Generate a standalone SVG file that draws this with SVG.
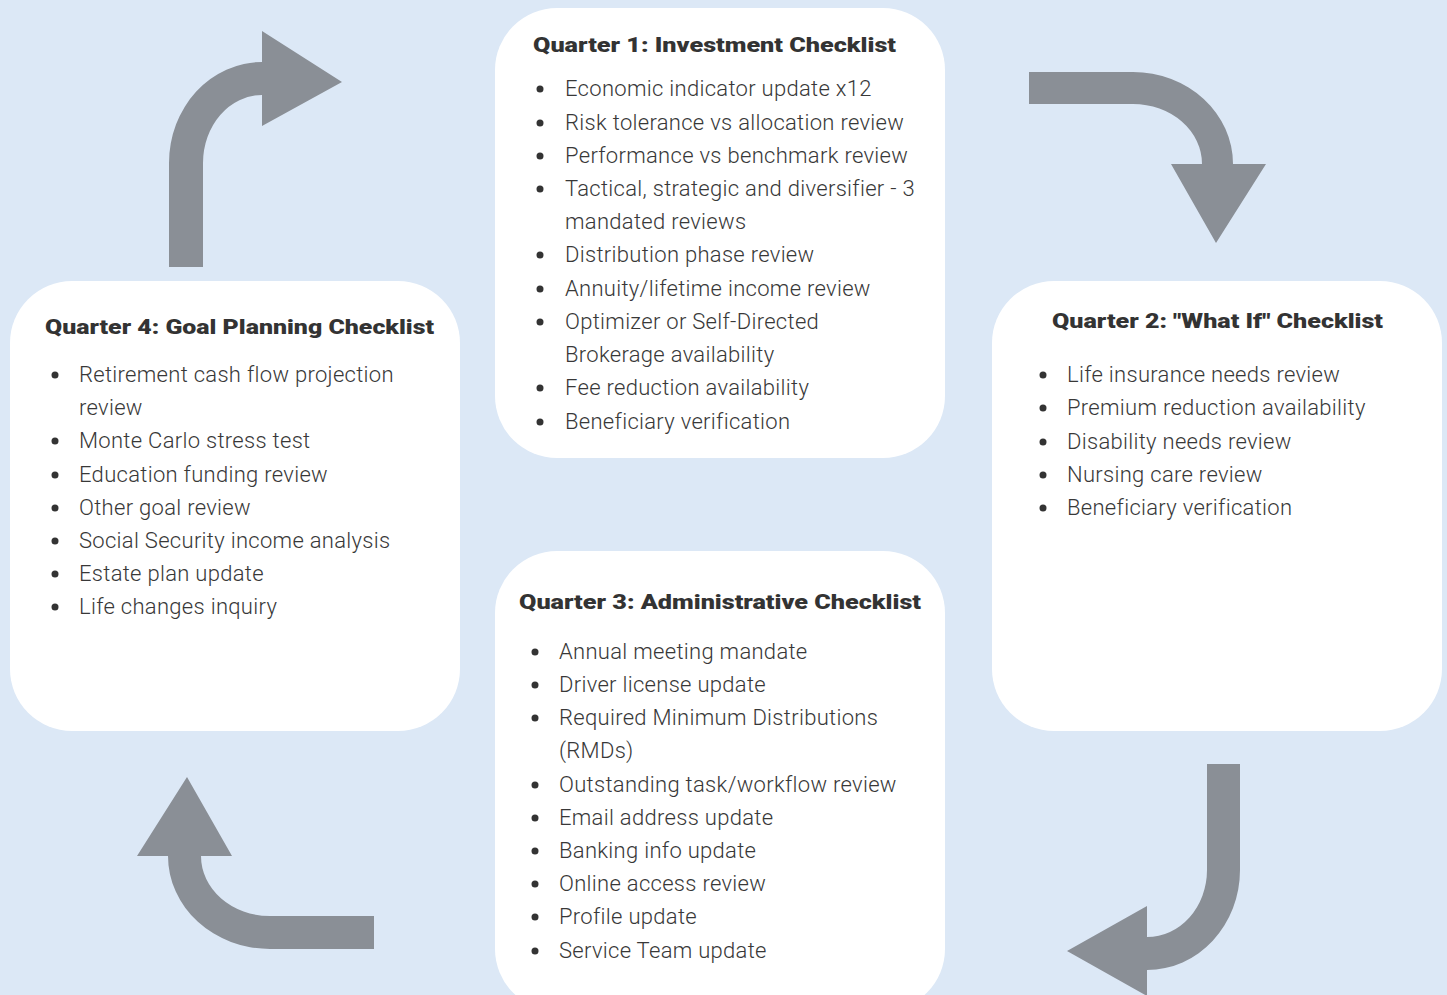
<svg xmlns="http://www.w3.org/2000/svg" width="1447" height="995" viewBox="0 0 1447 995">
<style>
.bg{fill:#dce8f6}
.box{fill:#ffffff}
.arr{fill:#8a8f96}
.t{font-family:Roboto,"Liberation Sans",sans-serif;font-weight:900;font-size:21px;fill:#333333}
.b{font-family:Roboto,"Liberation Sans",sans-serif;font-weight:300;font-size:22px;letter-spacing:0.3px;fill:#383838}
.dot{fill:#333333}
</style>
<rect class="bg" x="0" y="0" width="1447" height="995"/>
<g id="connectors">
<path class="arr" d="M169,267 L169,163 A93,101 0 0 1 262,62 L262,31 L342,82 L262,126 L262,95 A59,68 0 0 0 203,163 L203,267 Z"/>
<path class="arr" d="M1029,72 L1133,72 A100,92 0 0 1 1233,164 L1266,164 L1216,243 L1171,164 L1202,164 A69,60 0 0 0 1133,104 L1029,104 Z"/>
<path class="arr" d="M1207,764 L1240,764 L1240,870 A93,100 0 0 1 1147,970 L1147,996 L1067,951 L1147,906 L1147,937 A60,67 0 0 0 1207,870 Z"/>
<path class="arr" d="M374,916 L374,949 L270,949 A102,93 0 0 1 168,856 L137,856 L187,777 L232,856 L201,856 A69,60 0 0 0 270,916 Z"/>
</g>
<g id="q1">
<rect class="box" x="495" y="8" width="450" height="450" rx="62"/>
<text class="t" x="533" y="52" textLength="363" lengthAdjust="spacingAndGlyphs">Quarter 1: Investment Checklist</text>
<g class="dot"><circle cx="540" cy="89" r="3.5"/><circle cx="540" cy="123" r="3.5"/><circle cx="540" cy="156" r="3.5"/><circle cx="540" cy="189" r="3.5"/><circle cx="540" cy="255" r="3.5"/><circle cx="540" cy="289" r="3.5"/><circle cx="540" cy="322" r="3.5"/><circle cx="540" cy="388" r="3.5"/><circle cx="540" cy="422" r="3.5"/></g>
<text class="b" x="565" y="96">Economic indicator update x12</text>
<text class="b" x="565" y="130">Risk tolerance vs allocation review</text>
<text class="b" x="565" y="163">Performance vs benchmark review</text>
<text class="b" x="565" y="196">Tactical, strategic and diversifier - 3</text>
<text class="b" x="565" y="229">mandated reviews</text>
<text class="b" x="565" y="262">Distribution phase review</text>
<text class="b" x="565" y="296">Annuity/lifetime income review</text>
<text class="b" x="565" y="329">Optimizer or Self-Directed</text>
<text class="b" x="565" y="362">Brokerage availability</text>
<text class="b" x="565" y="395">Fee reduction availability</text>
<text class="b" x="565" y="429">Beneficiary verification</text>
</g>
<g id="q2">
<rect class="box" x="992" y="281" width="450" height="450" rx="62"/>
<text class="t" x="1052" y="328" textLength="331" lengthAdjust="spacingAndGlyphs">Quarter 2: "What If" Checklist</text>
<g class="dot"><circle cx="1043" cy="375" r="3.5"/><circle cx="1043" cy="408" r="3.5"/><circle cx="1043" cy="442" r="3.5"/><circle cx="1043" cy="475" r="3.5"/><circle cx="1043" cy="508" r="3.5"/></g>
<text class="b" x="1067" y="382">Life insurance needs review</text>
<text class="b" x="1067" y="415">Premium reduction availability</text>
<text class="b" x="1067" y="449">Disability needs review</text>
<text class="b" x="1067" y="482">Nursing care review</text>
<text class="b" x="1067" y="515">Beneficiary verification</text>
</g>
<g id="q3">
<rect class="box" x="495" y="551" width="450" height="460" rx="62"/>
<text class="t" x="519" y="609" textLength="402" lengthAdjust="spacingAndGlyphs">Quarter 3: Administrative Checklist</text>
<g class="dot"><circle cx="535" cy="652" r="3.5"/><circle cx="535" cy="685" r="3.5"/><circle cx="535" cy="718" r="3.5"/><circle cx="535" cy="785" r="3.5"/><circle cx="535" cy="818" r="3.5"/><circle cx="535" cy="851" r="3.5"/><circle cx="535" cy="884" r="3.5"/><circle cx="535" cy="917" r="3.5"/><circle cx="535" cy="951" r="3.5"/></g>
<text class="b" x="559" y="659">Annual meeting mandate</text>
<text class="b" x="559" y="692">Driver license update</text>
<text class="b" x="559" y="725">Required Minimum Distributions</text>
<text class="b" x="559" y="758">(RMDs)</text>
<text class="b" x="559" y="792">Outstanding task/workflow review</text>
<text class="b" x="559" y="825">Email address update</text>
<text class="b" x="559" y="858">Banking info update</text>
<text class="b" x="559" y="891">Online access review</text>
<text class="b" x="559" y="924">Profile update</text>
<text class="b" x="559" y="958">Service Team update</text>
</g>
<g id="q4">
<rect class="box" x="10" y="281" width="450" height="450" rx="62"/>
<text class="t" x="45" y="334" textLength="389" lengthAdjust="spacingAndGlyphs">Quarter 4: Goal Planning Checklist</text>
<g class="dot"><circle cx="55" cy="375" r="3.5"/><circle cx="55" cy="441" r="3.5"/><circle cx="55" cy="475" r="3.5"/><circle cx="55" cy="508" r="3.5"/><circle cx="55" cy="541" r="3.5"/><circle cx="55" cy="574" r="3.5"/><circle cx="55" cy="607" r="3.5"/></g>
<text class="b" x="79" y="382">Retirement cash flow projection</text>
<text class="b" x="79" y="415">review</text>
<text class="b" x="79" y="448">Monte Carlo stress test</text>
<text class="b" x="79" y="482">Education funding review</text>
<text class="b" x="79" y="515">Other goal review</text>
<text class="b" x="79" y="548">Social Security income analysis</text>
<text class="b" x="79" y="581">Estate plan update</text>
<text class="b" x="79" y="614">Life changes inquiry</text>
</g>
</svg>
